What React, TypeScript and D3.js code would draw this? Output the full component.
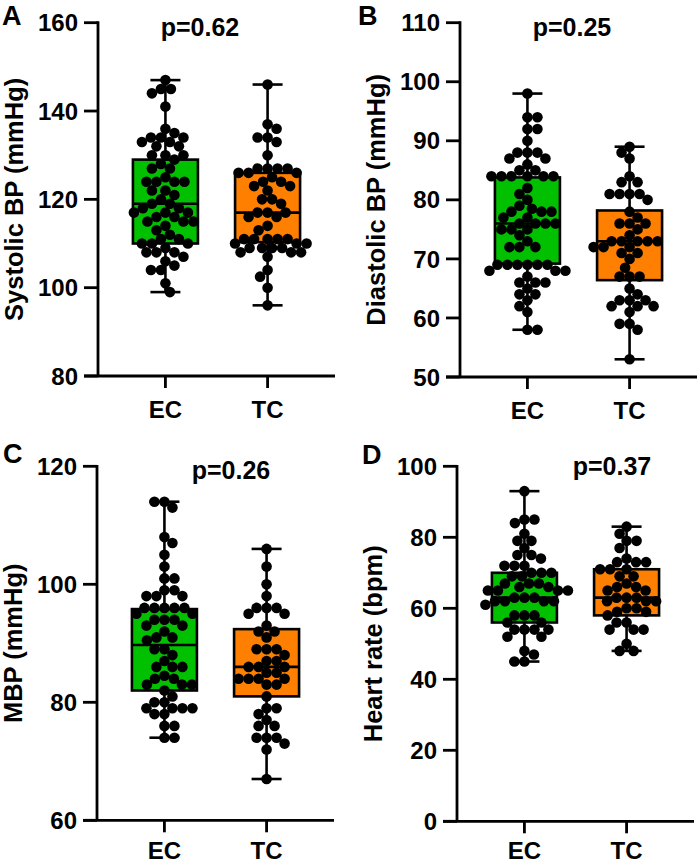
import React from "react";
import * as d3 from "d3";

const CATEGORIES = ["EC", "TC"];
const PANEL_LETTERS = ["A", "B", "C", "D"];
const Y_LABELS = ["Systolic BP (mmHg)", "Diastolic BP (mmHg)", "MBP (mmHg)", "Heart rate (bpm)"];
const P_VALUES = ["p=0.62", "p=0.25", "p=0.26", "p=0.37"];
const Y_DOMAINS: [number, number][] = [[80, 160], [50, 110], [60, 120], [0, 100]];
const Y_TICK_STEPS = [20, 10, 20, 20];

// box stats: [min, q1, median, q3, max]
const SBP_STATS = [[99, 110, 119, 129, 147], [96, 110.3, 117, 126, 146]];
const DBP_STATS = [[58, 69.2, 76, 83.8, 98], [53, 66.4, 73, 78.2, 89]];
const MBP_STATS = [[74, 82, 89.7, 95.8, 114], [67, 81, 86, 92.4, 106]];
const HR_STATS = [[45, 56, 63, 70, 93], [48, 58, 63, 71, 83]];

const SBP_EC = [147,145,145,144,141,136,135,134,134,134,133,133,132,132,130,130,130,129,128,127,127,125,124,124,124,124,122,122,121,120,119,119,118,118,117,117,117,116,116,115,115,115,114,113,112,111,111,110,110,110,109,108,108,108,107,106,105,104,104,101,99];
const SBP_TC = [146,137,136,134,134,133,130,127,127,127,127,126,126,126,125,124,124,123,123,122,120,120,119,117,117,117,116,116,114,113,111,111,111,111,111,110,110,110,109,109,109,109,108,108,108,107,104,102.5,100,96];
const DBP_EC = [98,94,94,92,92,90,88,88,88,87,87,86,85,85,84,84,84,84,84,84,82,81,80,79,78.5,78,78,78,77,77,76,76,76,76,75,75,75,74,73,72,72,72,69,69,69,69,69,69,68,68,68,67,66,66,66,65,64,64,63,62,61,58,58];
const DBP_TC = [89,88,87,84,83,83,81,81,81,81,80,78,77,76,76,76,75,74,73,73,73,73,73,72,72,72,71,71,70,68.5,67,67,67,65,64,63,63,63,62,62,62,61,59,59,58,53];
const MBP_EC = [114,114,113,108,107,105,103,101,101,99,99,98,98,98,96,96,96,96,96,95,95,94,94,94,93,93,92,91,91,90.5,89,89,88,87,86,86,86,84.5,84,84,83,83,83,82,81,80,80,79,79,79,79,78,78,76,76,74,74];
const MBP_TC = [106,103,100,98,96,96,96,95,95,93,92,92,91,89,89,89,88,87,87,86,86,86,85,85,84,84,84,84,83,83,81,79,79,78,77,76,76,74,74,74,73,72,67];
const HR_EC = [93,85,85,84,81,79,79,77,75,75,74,72,72,72,70,70,70,69,69,67,67,67,66,66,65,65,65,65,63,63,63,62,62,62,62,61,58,58,58,56,56,54,54,54,54,52,52,48,47,45,45];
const HR_TC = [83,81,79,79,77,74,73,73,73,71,71,71,69,69,67,66,66,65,65,63,63,63,62,62,62,60,60,59,59,58,56,56,54,54,54,50,48,48];

const BOX_STATS = [SBP_STATS, DBP_STATS, MBP_STATS, HR_STATS];
const POINTS = [[SBP_EC, SBP_TC], [DBP_EC, DBP_TC], [MBP_EC, MBP_TC], [HR_EC, HR_TC]];
const FILLS = ["#00C000", "#FF8000"];

// layout (pixel positions only)
const LAYOUT = [
  { axisX: 98, top: 22.7, bottom: 376, letter: [2, 25], p: [200, 35.5], xl: 42 },
  { axisX: 460, top: 22.7, bottom: 377, letter: [358, 25], p: [572, 36], xl: 42 },
  { axisX: 97, top: 466.3, bottom: 820.3, letter: [3, 463], p: [231, 478.7], xl: 39 },
  { axisX: 457, top: 466.3, bottom: 821.3, letter: [362, 464], p: [612, 475.3], xl: 38 },
];

const FONT = "'Liberation Sans', Arial, Helvetica, sans-serif";
const R = 5.3;
const AXIS_LEN = 237;
const BOX_HALF = 32.5;
const CAP_HALF = 15;

function swarm(values: number[], y: (v: number) => number, cx: number) {
  const pts = values.map((v) => ({ v, y: y(v), x: cx })).sort((a, b) => a.y - b.y);
  const placed: { x: number; y: number }[] = [];
  const minD = 2 * R * 0.92;
  pts.forEach((p, i) => {
    const sign = i % 2 === 0 ? 1 : -1;
    for (let k = 0; k < 400; k++) {
      const off = k === 0 ? 0 : Math.ceil(k / 2) * 0.5 * (k % 2 === 1 ? sign : -sign);
      const x = cx + off;
      let ok = true;
      for (const q of placed) {
        const dx = q.x - x, dy = q.y - p.y;
        if (dx * dx + dy * dy < minD * minD) { ok = false; break; }
      }
      if (ok) { p.x = x; break; }
    }
    placed.push({ x: p.x, y: p.y });
  });
  return pts;
}

function Panel({ idx }: { idx: number }) {
  const L = LAYOUT[idx];
  const dom = Y_DOMAINS[idx];
  const y = d3.scaleLinear().domain(dom).range([L.bottom, L.top]);
  const x = d3.scalePoint<string>().domain(CATEGORIES).range([L.axisX, L.axisX + AXIS_LEN]).padding(0.66);
  const ticks = d3.range(dom[0], dom[1] + Y_TICK_STEPS[idx] / 2, Y_TICK_STEPS[idx]);
  const cy = (L.top + L.bottom) / 2;
  return (
    <g fontFamily={FONT} fontWeight="bold" fill="#000">
      <text x={L.letter[0]} y={L.letter[1]} fontSize={27}>{PANEL_LETTERS[idx]}</text>
      <text x={L.p[0]} y={L.p[1]} fontSize={25} textAnchor="middle">{P_VALUES[idx]}</text>
      <text transform={`translate(${L.axisX - 75},${cy}) rotate(-90)`} fontSize={25.5} textAnchor="middle">{Y_LABELS[idx]}</text>
      {ticks.map((t) => (
        <g key={t}>
          <line x1={L.axisX - 14} x2={L.axisX} y1={y(t)} y2={y(t)} stroke="#000" strokeWidth={2.8} />
          <text x={L.axisX - 20} y={y(t)} dy="0.36em" fontSize={24} textAnchor="end">{t}</text>
        </g>
      ))}
      {CATEGORIES.map((c, ci) => {
        const cx = x(c)!;
        const s = BOX_STATS[idx][ci];
        const pts = swarm(POINTS[idx][ci], y, cx);
        return (
          <g key={c}>
            <line x1={cx} x2={cx} y1={y(s[0])} y2={y(s[4])} stroke="#000" strokeWidth={2.6} />
            <line x1={cx - CAP_HALF} x2={cx + CAP_HALF} y1={y(s[0])} y2={y(s[0])} stroke="#000" strokeWidth={2.6} />
            <line x1={cx - CAP_HALF} x2={cx + CAP_HALF} y1={y(s[4])} y2={y(s[4])} stroke="#000" strokeWidth={2.6} />
            <rect x={cx - BOX_HALF} width={BOX_HALF * 2} y={y(s[3])} height={y(s[1]) - y(s[3])} fill={FILLS[ci]} stroke="#000" strokeWidth={2.6} />
            <line x1={cx - BOX_HALF} x2={cx + BOX_HALF} y1={y(s[2])} y2={y(s[2])} stroke="#000" strokeWidth={2.6} />
            {pts.map((p, i) => (
              <circle key={i} cx={p.x} cy={p.y} r={R} fill="#000" />
            ))}
            <line x1={cx} x2={cx} y1={L.bottom} y2={L.bottom + 12} stroke="#000" strokeWidth={2.8} />
            <text x={cx} y={L.bottom + L.xl} fontSize={24} textAnchor="middle">{c}</text>
          </g>
        );
      })}
      <line x1={L.axisX} x2={L.axisX} y1={L.top - 1.4} y2={L.bottom} stroke="#000" strokeWidth={2.8} />
      <line x1={L.axisX - 14} x2={L.axisX + AXIS_LEN} y1={L.bottom} y2={L.bottom} stroke="#000" strokeWidth={2.8} />
    </g>
  );
}

export default function App() {
  return (
    <svg width={700} height={864} style={{ position: "absolute", left: 0, top: 0, background: "#fff" }}>
      <rect width={700} height={864} fill="#fff" />
      {[0, 1, 2, 3].map((i) => <Panel key={i} idx={i} />)}
    </svg>
  );
}
